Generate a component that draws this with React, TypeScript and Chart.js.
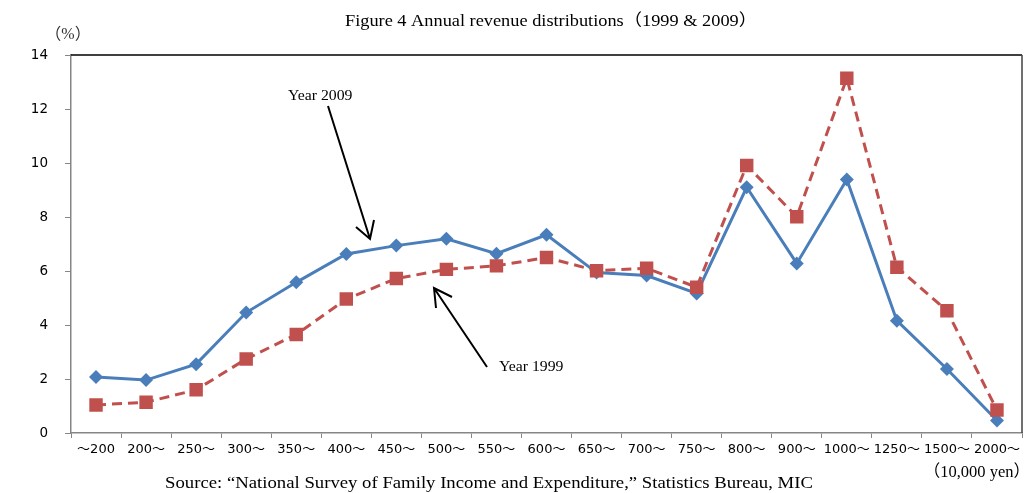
import React, { useEffect, useRef } from "react";
import { Chart, registerables } from "chart.js";

Chart.register(...registerables);

const categories = [
  "～200", "200～", "250～", "300～", "350～", "400～", "450～", "500～", "550～", "600～",
  "650～", "700～", "750～", "800～", "900～", "1000～", "1250～", "1500～", "2000～",
];

const year2009 = [2.07, 1.96, 2.55, 4.46, 5.58, 6.63, 6.94, 7.19, 6.64, 7.34, 5.94, 5.83, 5.17, 9.1, 6.28, 9.39, 4.16, 2.37, 0.46];
const year1999 = [1.04, 1.14, 1.6, 2.74, 3.65, 4.96, 5.72, 6.06, 6.19, 6.5, 6.01, 6.1, 5.4, 9.91, 8.01, 13.14, 6.14, 4.53, 0.85];

const yTicks = [0, 2, 4, 6, 8, 10, 12, 14];

const TITLE = "Figure 4 Annual revenue distributions（1999 & 2009）";
const SOURCE = "Source: “National Survey of Family Income and Expenditure,” Statistics Bureau, MIC";
const Y_UNIT = "（%）";
const X_UNIT = "（10,000 yen）";
const LABEL_2009 = "Year 2009";
const LABEL_1999 = "Year 1999";

const SERIF = "'Liberation Serif', 'Times New Roman', 'Noto Sans CJK JP', serif";
const SANS = "'DejaVu Sans', 'Noto Sans CJK JP', sans-serif";

function drawArrow(ctx: CanvasRenderingContext2D, x1: number, y1: number, x2: number, y2: number, w1: [number, number], w2: [number, number]) {
  ctx.beginPath();
  ctx.moveTo(x1, y1);
  ctx.lineTo(x2, y2);
  ctx.moveTo(w1[0], w1[1]);
  ctx.lineTo(x2, y2);
  ctx.lineTo(w2[0], w2[1]);
  ctx.stroke();
}

// draws text with a horizontal stretch factor sx, anchored at x by align
function stretchedText(ctx: CanvasRenderingContext2D, text: string, x: number, y: number, size: number, align: CanvasTextAlign, sx: number, color = "#000000") {
  ctx.save();
  ctx.font = `${size}px ${SERIF}`;
  ctx.fillStyle = color;
  ctx.textBaseline = "middle";
  ctx.textAlign = align;
  ctx.translate(x, y);
  ctx.scale(sx, 1);
  ctx.fillText(text, 0, 0);
  ctx.restore();
}

const decorPlugin = {
  id: "decor",
  afterDraw(chart: any) {
    const ctx: CanvasRenderingContext2D = chart.ctx;
    const a = chart.chartArea;
    ctx.save();
    // top & right frame
    ctx.lineWidth = 1.5;
    ctx.strokeStyle = "#000000";
    ctx.beginPath();
    ctx.moveTo(a.left, a.top);
    ctx.lineTo(a.right, a.top);
    ctx.stroke();
    ctx.strokeStyle = "#404040";
    ctx.beginPath();
    ctx.moveTo(a.right, a.top);
    ctx.lineTo(a.right, a.bottom);
    ctx.stroke();

    stretchedText(ctx, TITLE, 551, 22, 16.5, "center", 1.11);
    stretchedText(ctx, SOURCE, 489, 483, 17.5, "center", 1.07);
    stretchedText(ctx, Y_UNIT, 68, 35, 16, "center", 1.0, "#333333");
    stretchedText(ctx, X_UNIT, 1030, 473, 16.5, "right", 1.0);
    stretchedText(ctx, LABEL_2009, 288, 96, 15, "left", 1.05);
    stretchedText(ctx, LABEL_1999, 499, 367, 15, "left", 1.05);

    ctx.strokeStyle = "#000000";
    ctx.lineWidth = 2;
    drawArrow(ctx, 328, 106, 370, 239, [356, 227], [374, 220]);
    drawArrow(ctx, 487, 367, 434, 288, [436, 308], [452, 297]);
    ctx.restore();
  },
};

export default function App() {
  const ref = useRef<HTMLCanvasElement | null>(null);
  useEffect(() => {
    if (!ref.current) return;
    const chart = new Chart(ref.current, {
      type: "line",
      data: {
        labels: categories,
        datasets: [
          {
            label: "2009",
            data: year2009,
            borderColor: "#4A7EBB",
            backgroundColor: "#4A7EBB",
            borderWidth: 3,
            pointStyle: "rectRot",
            pointRadius: 7,
            pointBorderWidth: 0,
            tension: 0,
            order: 1,
          },
          {
            label: "1999",
            data: year1999,
            borderColor: "#C0504D",
            backgroundColor: "#C0504D",
            borderWidth: 3,
            borderDash: [10, 6],
            pointStyle: "rect",
            pointRadius: 9.5,
            pointBorderWidth: 0,
            tension: 0,
            order: 0,
          },
        ],
      },
      options: {
        responsive: false,
        animation: false,
        layout: { padding: { top: 55, right: 13, left: 0, bottom: 0 } },
        plugins: {
          legend: { display: false },
          tooltip: { enabled: false },
          title: { display: false },
        },
        scales: {
          x: {
            type: "category",
            offset: true,
            grid: {
              offset: true,
              drawOnChartArea: false,
              drawTicks: true,
              tickLength: 5,
              color: "#868686",
            },
            border: { color: "#868686", width: 1.5 },
            ticks: {
              autoSkip: false,
              maxRotation: 0,
              minRotation: 0,
              padding: 4,
              color: "#000000",
              font: { family: SANS, size: 13 },
            },
            afterFit: (s: any) => {
              s.height = 60;
            },
          },
          y: {
            min: 0,
            max: 14,
            afterBuildTicks: (s: any) => {
              s.ticks = yTicks.map((v) => ({ value: v }));
            },
            grid: {
              drawOnChartArea: false,
              drawTicks: true,
              tickLength: 6,
              color: "#868686",
            },
            border: { color: "#868686", width: 1.5 },
            ticks: {
              padding: 17,
              color: "#000000",
              font: { family: SANS, size: 13.5 },
            },
            afterFit: (s: any) => {
              s.width = 71;
            },
          },
        },
      },
      plugins: [decorPlugin],
    });
    return () => chart.destroy();
  }, []);
  return (
    <div style={{ position: "absolute", left: 0, top: 0, width: 1035, height: 493, background: "#fff" }}>
      <canvas ref={ref} width={1035} height={493} style={{ display: "block" }} />
    </div>
  );
}
